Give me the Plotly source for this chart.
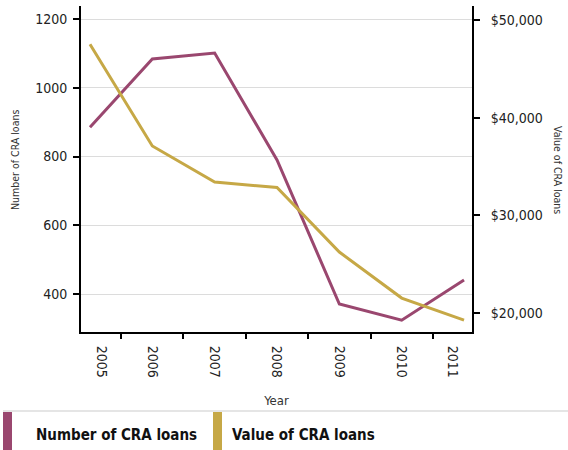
import plotly.graph_objects as go

# ---- data ----
years = [2005, 2006, 2007, 2008, 2009, 2010, 2011]
num_loans = [885, 1084, 1101, 790, 371, 324, 441]
value_loans = [47510, 37100, 33410, 32850, 26240, 21530, 19280]
year_labels = ["2005", "2006", "2007", "2008", "2009", "2010", "2011"]
left_ticks = [400, 600, 800, 1000, 1200]
right_ticks = [20000, 30000, 40000, 50000]
right_tick_text = ["$20,000", "$30,000", "$40,000", "$50,000"]

PURPLE = "#9a476f"
GOLD = "#c6a846"
FONT = "DejaVu Sans Condensed, Roboto, sans-serif"

W, H = 568, 450
ML, MR, MT, MB = 81, 96, 6, 118
PW, PH = W - ML - MR, H - MT - MB


def px(x):
    return (x - ML) / PW


def py(y):
    return (H - MB - y) / PH


# label positions (end labels pulled inward as in the original)
label_pos = list(years)
label_pos[0] = years[0] + 0.18
label_pos[-1] = years[-1] - 0.18
boundaries = [y + 0.5 for y in years[:-1]]

fig = go.Figure()
fig.add_trace(go.Scatter(x=years, y=num_loans, name="Number of CRA loans", mode="lines",
                         line=dict(color=PURPLE, width=3), showlegend=False))
fig.add_trace(go.Scatter(x=years, y=value_loans, name="Value of CRA loans", mode="lines",
                         line=dict(color=GOLD, width=3), yaxis="y2", showlegend=False))

fig.update_layout(
    width=W, height=H,
    margin=dict(l=ML, r=MR, t=MT, b=MB, pad=0),
    paper_bgcolor="white", plot_bgcolor="white",
    font=dict(family=FONT, color="#222", size=14),
    xaxis=dict(
        range=[2004.856, 2011.128],
        tickmode="array", tickvals=label_pos, ticktext=year_labels,
        ticks="", tickangle=90, ticklabelstandoff=9,
        tickfont=dict(size=14, color="#222"),
        showgrid=False, zeroline=False,
        showline=True, linecolor="black", linewidth=2,
        minor=dict(tickmode="array", tickvals=boundaries, ticks="outside",
                   ticklen=5, tickwidth=2, tickcolor="black", showgrid=False),
        title=dict(text="Year", font=dict(size=13, color="#333"), standoff=19),
    ),
    yaxis=dict(
        range=[289.5, 1238],
        tickmode="array", tickvals=left_ticks,
        ticks="outside", ticklen=6, tickwidth=2, tickcolor="black",
        ticklabelstandoff=3,
        tickfont=dict(size=14, color="#222"),
        showgrid=True, gridcolor="#dcdcdc", gridwidth=1.3,
        zeroline=False,
        showline=True, linecolor="black", linewidth=2,
    ),
    yaxis2=dict(
        range=[18055, 51433], overlaying="y", side="right",
        tickmode="array", tickvals=right_ticks, ticktext=right_tick_text,
        ticks="outside", ticklen=6, tickwidth=2, tickcolor="black",
        ticklabelstandoff=8,
        tickfont=dict(size=14, color="#222"),
        showgrid=False, zeroline=False,
        showline=True, linecolor="black", linewidth=2,
    ),
    shapes=[
        dict(type="line", xref="paper", yref="paper", x0=px(3), x1=px(568), y0=py(411), y1=py(411),
             line=dict(color="#dddddd", width=1.5)),
        dict(type="rect", xref="paper", yref="paper", x0=px(3), x1=px(12), y0=py(412), y1=py(451),
             fillcolor=PURPLE, line=dict(width=0)),
        dict(type="rect", xref="paper", yref="paper", x0=px(213), x1=px(222), y0=py(412), y1=py(451),
             fillcolor=GOLD, line=dict(width=0)),
    ],
    annotations=[
        dict(text="Number of CRA loans", xref="paper", yref="paper", x=px(15), y=py(160),
             textangle=-90, showarrow=False, font=dict(size=10.5, color="#333"),
             xanchor="center", yanchor="middle"),
        dict(text="Value of CRA loans", xref="paper", yref="paper", x=px(558), y=py(170),
             textangle=90, showarrow=False, font=dict(size=10.5, color="#333"),
             xanchor="center", yanchor="middle"),
        dict(text="<b>Number of CRA loans</b>", xref="paper", yref="paper", x=px(34), y=py(435),
             showarrow=False, xanchor="left", yanchor="middle",
             font=dict(size=15, color="#111")),
        dict(text="<b>Value of CRA loans</b>", xref="paper", yref="paper", x=px(230), y=py(435),
             showarrow=False, xanchor="left", yanchor="middle",
             font=dict(size=15, color="#111")),
    ],
)

fig.write_html("out.html", config={"displayModeBar": False},
               post_script="document.body.style.margin='0px';")
